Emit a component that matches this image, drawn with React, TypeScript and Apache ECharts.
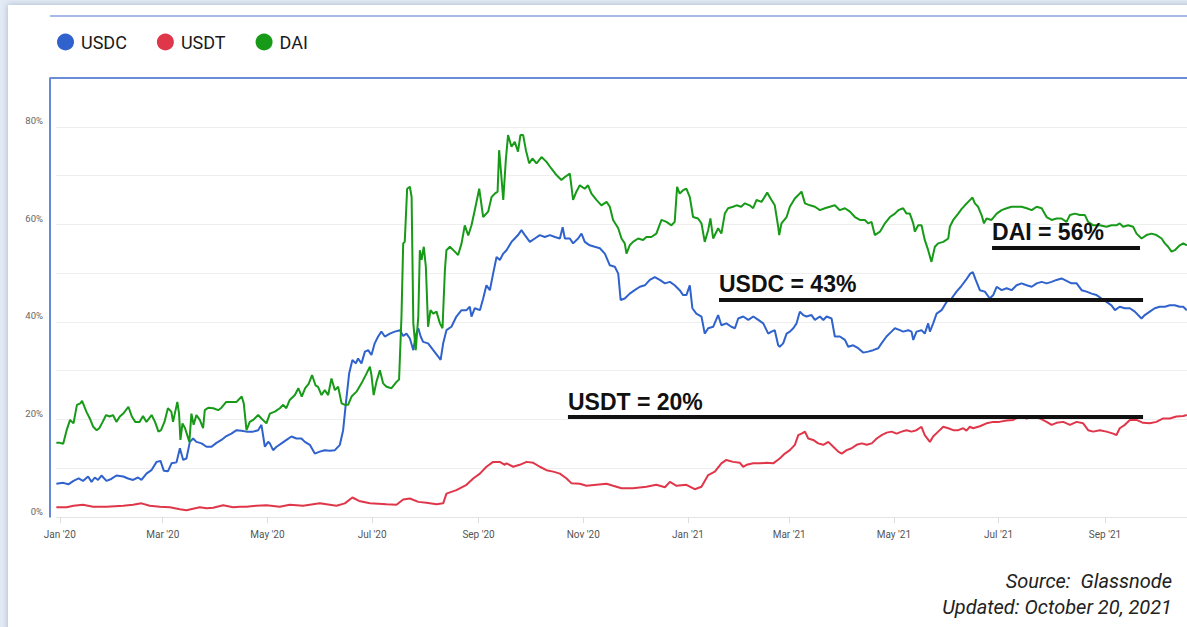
import React, { useEffect, useRef } from "react";
import * as echarts from "echarts";

// x values are days since 2020-01-01, y values are % share
const tickDates = [
  "2020-01-01", "2020-03-01", "2020-05-01", "2020-07-01", "2020-09-01", "2020-11-01",
  "2021-01-01", "2021-03-01", "2021-05-01", "2021-07-01", "2021-09-01",
];
const tickLabels = [
  "Jan '20", "Mar '20", "May '20", "Jul '20", "Sep '20", "Nov '20",
  "Jan '21", "Mar '21", "May '21", "Jul '21", "Sep '21",
];

const usdc: [number, number][] = [
  [-2, 6.8], [2, 7.0], [5, 6.7], [8, 7.4], [11, 7.9], [13.5, 7.4], [16.5, 8.3], [18.5, 7.2], [20.4, 8.1],
  [22.3, 7.6], [24.3, 8.5], [27.2, 7.4], [30, 7.8], [33, 8.5], [37, 8.3], [39.8, 7.9], [42.7, 7.6],
  [45.6, 8.1], [47.6, 7.6], [50.5, 8.9], [53.4, 9.6], [56.4, 11.3], [58.7, 11.5], [60.6, 9.5], [63.1, 9.4],
  [65.1, 11.0], [68, 11.2], [70, 14.1], [71.9, 11.7], [73.8, 12.0], [75.8, 15.4], [77.7, 16.1], [79.6, 15.4],
  [82.6, 15.1], [85.5, 14.4], [88.4, 14.4], [91.3, 15.2], [94.2, 15.8], [97.1, 16.6], [100, 17.1], [103, 17.8],
  [105.9, 17.7], [108.8, 17.5], [112.7, 17.5], [115.6, 17.8], [117.5, 18.9], [119.5, 14.4], [121.4, 15.4],
  [122.4, 15.1], [124.3, 13.7], [126.3, 14.4], [129.2, 15.1], [132.1, 15.8], [135, 16.5], [137.9, 16.1],
  [140.8, 16.1], [142.8, 15.4], [145.7, 14.8], [148.6, 13.0], [151.5, 13.4], [154.4, 13.7], [157.3, 13.6],
  [160.3, 13.7], [163.2, 14.8], [165.1, 17.8], [166.7, 23.3], [168.6, 29.4], [170.5, 32.2], [172.5, 31.5],
  [173.8, 32.5], [175.8, 31.5], [177.8, 33.9], [179.7, 34.2], [181.6, 33.2], [183.5, 35.6], [185.5, 37.0],
  [187.4, 38.0], [189.4, 37.0], [192.3, 37.6], [195.2, 38.0], [198.2, 38.3], [200.1, 37.1], [202, 37.6],
  [204, 36.6], [206, 34.2], [207.4, 37.3], [208.9, 38.7], [210.3, 37.0], [211.7, 35.9], [214.6, 35.6],
  [217.6, 34.2], [220.5, 32.9], [221.9, 32.2], [223.4, 35.6], [225.3, 38.3], [228.2, 39.0], [231.1, 41.1],
  [234.1, 42.4], [237, 42.4], [238.9, 43.1], [239.9, 41.1], [241.8, 42.8], [244.8, 42.4], [246.7, 44.8],
  [248.6, 47.5], [250.6, 46.5], [252.5, 49.9], [254.5, 53.3], [256.4, 52.7], [258.4, 54.0], [260.3, 54.7],
  [263.2, 56.4], [265.1, 57.1], [267, 57.8], [269, 58.8], [271, 57.8], [273.9, 56.4], [276.8, 57.1],
  [279.7, 57.8], [282.6, 57.4], [285.6, 57.8], [288.5, 57.4], [291.4, 57.1], [293, 59.4], [294.3, 57.1],
  [297.2, 57.1], [299.1, 56.1], [302, 57.1], [304, 58.1], [305.9, 56.4], [308.8, 55.7], [311.7, 55.4],
  [314.7, 55.1], [317.6, 54.0], [320.5, 51.6], [323.4, 51.3], [325.4, 49.9], [326.8, 44.5], [329.2, 44.8],
  [332.1, 45.8], [335, 46.5], [338, 47.2], [340.9, 47.5], [343.8, 48.6], [346.7, 49.2], [349.6, 48.6],
  [352.6, 47.9], [355.5, 48.2], [358.3, 47.5], [361.2, 46.5], [363.2, 45.5], [365.1, 45.5], [367.1, 47.5],
  [368.6, 42.8], [370.9, 41.7], [373.9, 41.1], [375.8, 37.6], [377.8, 38.7], [380.7, 39.0], [383.6, 41.4],
  [385.5, 39.3], [388.4, 39.7], [391.3, 39.0], [393.4, 38.7], [395.3, 40.7], [398.2, 41.1], [401.2, 40.4],
  [404.1, 41.1], [407, 40.4], [409.9, 39.7], [412.8, 37.6], [414.7, 38.0], [416.6, 38.3], [418.6, 35.2],
  [419.5, 34.9], [421.5, 35.6], [423.5, 37.6], [425.4, 38.0], [427.4, 38.7], [429.3, 39.7], [431.2, 42.1],
  [433.2, 41.4], [435.1, 41.1], [438, 41.4], [440, 40.4], [442.9, 41.1], [444.9, 40.4], [446.8, 41.1],
  [449.7, 40.7], [451.6, 37.0], [454.5, 37.0], [457.5, 36.3], [459.4, 34.9], [462.3, 35.2], [465.2, 34.6],
  [468.1, 33.7], [471, 33.9], [473.9, 34.2], [476.9, 34.6], [478.8, 35.6], [481.7, 37.0], [484.6, 38.0],
  [486.6, 38.7], [489.5, 38.3], [491.4, 38.0], [494.4, 38.3], [496.3, 38.0], [497.3, 36.3], [499.2, 38.0],
  [502.1, 38.3], [504, 37.6], [506, 39.7], [507, 38.0], [508.9, 39.7], [510.9, 41.7], [513.8, 42.4],
  [516.7, 44.1], [519.6, 44.8], [522.5, 46.2], [525, 47.2], [528, 48.6], [530.5, 49.9], [532, 50.2],
  [533.7, 48.6], [536.1, 46.5], [539, 46.2], [541.9, 44.8], [543.9, 45.5], [545.9, 47.2], [548.8, 46.5],
  [551.7, 46.9], [554.6, 46.5], [557.5, 47.5], [560.4, 47.9], [563.4, 47.5], [566.3, 47.2], [569.2, 47.9],
  [572.1, 48.2], [575, 47.9], [577.9, 48.2], [580.8, 48.6], [583.7, 48.9], [586.6, 48.4], [589.5, 47.9],
  [592.5, 47.9], [595.4, 46.5], [598.3, 46.2], [601.2, 45.8], [604.1, 45.5], [607, 44.8], [609.9, 44.1],
  [612.8, 43.4], [614.8, 42.4], [617.6, 43.1], [620.6, 42.8], [623.5, 42.8], [626.4, 42.1], [628.3, 41.4],
  [630.3, 40.7], [632.2, 41.4], [635.1, 42.1], [638, 42.8], [640.9, 43.1], [643.9, 43.1], [646.8, 43.4],
  [649.7, 43.4], [652.6, 43.1], [654.6, 43.1], [656.7, 42.4],
];

const usdt: [number, number][] = [
  [-2, 2.0], [4, 2.0], [8, 2.3], [13.5, 2.5], [19.4, 2.1], [27.2, 2.1], [37, 2.3], [42.7, 2.5], [47.6, 2.8],
  [52.4, 2.3], [58.3, 2.1], [64.1, 2.0], [70, 1.6], [73.8, 1.4], [77.7, 1.7], [81.6, 2.0], [85.5, 1.8],
  [89.4, 1.9], [95.2, 2.4], [101, 2.0], [104.9, 2.1], [108.8, 2.1], [114.6, 2.3], [120.4, 2.4], [128.2, 2.1],
  [134, 2.5], [141.8, 2.3], [151.5, 2.8], [161.2, 2.3], [166.1, 2.8], [170.5, 4.0], [174.4, 3.3], [180.7, 2.8],
  [190.4, 2.6], [196.2, 2.5], [200.1, 3.6], [204, 3.8], [208.9, 3.1], [213.7, 2.9], [219.5, 2.6], [223.4, 2.8],
  [225.3, 4.8], [231.1, 5.5], [237, 6.6], [240.9, 7.9], [244.8, 8.9], [248.6, 10.3], [252.5, 11.3],
  [256.4, 11.3], [259.3, 10.7], [260.3, 11.0], [264.2, 10.3], [268, 10.7], [272, 11.3], [275.9, 11.1],
  [279.7, 10.3], [283.6, 9.6], [287.5, 9.3], [291.4, 8.9], [295.3, 7.9], [298.2, 6.9], [303, 6.8],
  [306.9, 6.4], [312.7, 6.6], [318.6, 6.8], [322.4, 6.4], [327.3, 5.9], [334, 5.9], [341.8, 6.2],
  [347.6, 6.6], [352.6, 6.1], [355.5, 7.2], [359.4, 6.4], [365.1, 6.6], [370, 5.7], [373.9, 6.2],
  [377.8, 8.6], [381.7, 9.3], [385.5, 11.0], [388.4, 11.7], [392.3, 11.3], [396.3, 11.1], [398.2, 10.3],
  [400.2, 10.7], [404.1, 11.0], [408, 11.0], [411.8, 11.1], [415.7, 11.0], [419.5, 12.0], [422.5, 13.0],
  [425.4, 13.7], [428.3, 14.8], [430.3, 16.8], [432.2, 17.1], [434.2, 17.5], [436.1, 16.1], [439, 15.8],
  [441.9, 15.1], [444.9, 14.8], [447.8, 15.4], [450.7, 14.4], [453.6, 13.4], [455.6, 13.0], [458.5, 13.7],
  [461.4, 14.1], [464.3, 14.8], [467.3, 15.1], [470.2, 14.8], [473.1, 15.1], [476, 16.1], [478.9, 16.8],
  [481.8, 17.3], [484.7, 17.5], [487.6, 17.1], [490.5, 17.5], [493.4, 17.8], [496.3, 17.5], [499.2, 17.8],
  [502.1, 18.5], [504, 16.8], [507, 15.4], [508.9, 16.5], [511.8, 17.5], [514.8, 18.5], [517.7, 18.2],
  [520.6, 17.8], [523.5, 17.8], [526.4, 18.2], [528.3, 17.7], [530.3, 18.5], [532.2, 18.2], [536.1, 18.6],
  [540, 19.2], [543.9, 19.5], [547.4, 19.5], [551.7, 19.8], [555.5, 19.9], [559.4, 20.6], [563.4, 20.2],
  [567.2, 20.6], [571.1, 20.2], [575, 19.5], [577.9, 18.9], [580.8, 19.3], [584.7, 19.5], [588.6, 18.9],
  [592.5, 19.5], [596.3, 19.2], [599.2, 17.8], [602.2, 17.5], [606, 17.8], [609.9, 17.5], [613.8, 17.1],
  [615.7, 16.8], [617.6, 18.2], [620.6, 18.9], [623.5, 19.9], [627.4, 19.9], [631.2, 19.3], [635.1, 19.2],
  [639, 19.5], [642.9, 20.2], [646.8, 20.2], [650.6, 20.6], [654.6, 20.7], [656.7, 20.9],
];

const dai: [number, number][] = [
  [-2, 15.2], [0, 15.2], [2, 15.0], [4, 17.8], [6, 19.9], [8, 19.2], [10, 23.0], [12, 23.3], [13, 23.8],
  [15.5, 21.6], [17.5, 20.2], [19.5, 18.5], [21.5, 17.8], [23, 18.2], [25, 19.5], [27, 20.9], [29, 20.6],
  [31, 20.9], [33, 19.5], [35, 20.6], [37, 21.2], [40, 22.6], [42, 20.6], [44, 19.5], [46.5, 19.5],
  [48.5, 20.7], [50.5, 19.5], [53.5, 20.9], [55.5, 19.5], [57.5, 17.5], [59, 17.8], [61, 19.5], [63, 22.3],
  [65, 21.6], [66, 19.5], [68.5, 23.6], [69.5, 21.2], [70.3, 15.8], [71.5, 19.2], [73, 18.2], [75.5, 15.4],
  [76.7, 21.2], [78, 18.9], [79.6, 20.9], [81.6, 19.9], [83.5, 18.2], [84.5, 21.9], [86.5, 22.4],
  [89.5, 22.3], [92.3, 21.9], [94.2, 22.4], [97, 23.6], [100, 23.6], [103, 23.6], [106, 24.7], [107.2, 23.3],
  [108.8, 17.8], [110.7, 19.5], [112.7, 19.9], [115.6, 20.9], [117.5, 20.2], [120.4, 19.2], [122.4, 21.2],
  [125.3, 21.6], [128.2, 22.3], [130.2, 23.0], [132, 22.3], [134, 24.0], [137, 25.0], [139, 26.4],
  [141, 24.7], [143, 26.4], [145, 27.3], [147, 29.1], [149, 27.0], [150.5, 26.7], [152.5, 25.0],
  [154.4, 26.0], [156.4, 25.0], [158.3, 28.4], [160.3, 26.0], [162.2, 26.7], [164.2, 23.3], [166.1, 23.0],
  [168, 23.0], [170, 24.7], [172.9, 25.7], [175.8, 27.4], [178.7, 29.4], [180.7, 30.8], [181.6, 29.1],
  [182.9, 25.0], [184.5, 27.7], [186.5, 30.1], [188.4, 27.4], [190.4, 26.7], [193.3, 26.4], [196.2, 27.7],
  [197.7, 28.2], [199.1, 41.1], [200.1, 56.1], [201, 56.4], [202.4, 67.3], [204, 67.7], [205, 65.6],
  [206, 39.7], [207.4, 34.2], [208.9, 41.1], [209.8, 54.7], [210.8, 52.7], [212.1, 55.4], [213.3, 51.3],
  [214.6, 39.0], [216, 42.4], [217.6, 41.7], [219.5, 42.1], [221.5, 39.7], [223, 38.7], [224.4, 50.6],
  [225.3, 54.7], [227.3, 55.4], [230.2, 54.4], [232.1, 53.7], [234.1, 56.1], [236, 59.8], [238, 57.7],
  [239.9, 59.8], [241.8, 62.9], [244.4, 67.3], [246.7, 61.5], [249.6, 62.6], [251.6, 65.6], [253.5, 66.3],
  [255.1, 66.7], [256, 75.2], [257, 71.1], [258.4, 65.0], [259.9, 73.2], [261.2, 78.3], [263.2, 75.9],
  [265.1, 76.9], [267, 74.9], [268.4, 78.3], [270, 78.3], [271.6, 75.2], [273.5, 72.5], [275.4, 73.5],
  [277.8, 72.5], [280.7, 73.8], [283.6, 72.8], [286.5, 71.4], [289.4, 70.1], [292.3, 69.1], [294.3, 69.7],
  [297.2, 70.4], [299.1, 65.0], [301, 66.7], [303, 68.0], [305.9, 67.3], [307.8, 68.0], [309.8, 66.3],
  [312.7, 65.0], [315.6, 63.9], [318.6, 64.6], [320.5, 63.6], [322.4, 60.9], [325.4, 59.2], [327.3, 57.1],
  [329.2, 56.1], [330.2, 54.0], [332.1, 55.7], [334, 56.4], [337, 57.1], [339.9, 56.8], [341.8, 57.4],
  [344.7, 57.4], [347.6, 58.1], [350.6, 60.9], [353.5, 60.5], [356.4, 59.8], [358.3, 60.5], [359.7, 67.7],
  [361.2, 66.3], [363.2, 67.0], [365.1, 67.3], [367.1, 65.6], [369, 61.5], [371.9, 61.2], [373.9, 60.2],
  [375.8, 56.4], [377.8, 58.8], [379.1, 61.2], [380.7, 57.1], [383.6, 59.2], [385.5, 58.1], [387.5, 62.2],
  [389.4, 63.3], [392.3, 63.6], [394.3, 63.9], [397, 63.6], [399.2, 64.3], [402, 63.9], [404, 63.3],
  [406, 65.0], [408.9, 64.6], [412.2, 66.5], [414.7, 65.0], [416.6, 63.9], [418.6, 59.5], [419.2, 57.8],
  [420.5, 60.2], [423.5, 61.5], [425.4, 63.6], [428.3, 65.3], [430.3, 66.0], [432.2, 66.7], [434.2, 64.3],
  [437.1, 63.9], [440, 63.6], [442.9, 62.9], [445.8, 63.3], [448.7, 63.6], [451.6, 63.9], [454.5, 62.9],
  [457.5, 63.3], [460.4, 62.6], [463.3, 61.5], [466.2, 60.9], [469.1, 60.9], [471, 60.2], [473, 60.5],
  [474.9, 57.8], [477.9, 58.5], [480.8, 60.2], [483.7, 61.5], [486.6, 62.2], [488.6, 62.9], [491.4, 63.3],
  [493.4, 62.2], [495.3, 62.2], [497.3, 60.2], [498.2, 58.5], [500.2, 59.8], [502.1, 59.8], [504, 56.8],
  [506, 54.7], [507.9, 52.3], [509.9, 55.4], [511.8, 56.1], [514.8, 56.4], [517.7, 57.1], [518.6, 59.5],
  [520.6, 60.9], [523.5, 62.2], [525.4, 63.1], [527.4, 63.9], [529.3, 64.6], [531.8, 65.5], [533.2, 64.3],
  [535.1, 63.6], [537.1, 61.9], [538.5, 60.2], [540, 61.2], [542.9, 60.9], [545.9, 62.2], [548.8, 62.9],
  [551.7, 63.3], [554.6, 63.6], [557.5, 63.6], [560.4, 63.6], [563.4, 63.3], [566.3, 62.9], [569.2, 63.6],
  [572.1, 63.3], [575, 61.5], [577.9, 60.9], [580.8, 61.2], [583.7, 61.2], [586.6, 60.5], [588.6, 61.9],
  [591.5, 62.2], [594.4, 61.9], [597.3, 61.9], [599.2, 60.5], [602.2, 59.8], [606, 59.8], [609.9, 59.5],
  [612.8, 59.8], [615.7, 59.8], [617.6, 60.2], [619.6, 59.5], [622.5, 59.8], [625.4, 59.5], [627.4, 58.1],
  [630.3, 57.1], [633.2, 57.8], [636.1, 58.1], [639, 57.8], [642, 57.1], [643.9, 56.1], [645.8, 55.4],
  [647.8, 54.4], [649.7, 54.7], [652.6, 55.7], [654.6, 56.1], [656.7, 55.7],
];

const seriesNames = ["USDC", "USDT", "DAI"];
const seriesColors = ["#2f62cc", "#e0364a", "#179a17"];

// annotation: label, level (%), start day, end day
const annotationLabels = ["USDC = 43%", "USDT = 20%", "DAI = 56%"];
const annotationLevels = [44.5, 20.5, 55.25];
const annotationFrom = [384.1, 296.1, 543.2];
const annotationTo = [631.2, 631.2, 629.4];

const sourceLines = ["Source:  Glassnode", "Updated: October 20, 2021"];

const START = Date.UTC(2020, 0, 1);
const DAY = 86400000;
const tickDays = tickDates.map((d) => Math.round((Date.parse(d + "T00:00:00Z") - START) / DAY));

export default function App() {
  const ref = useRef<HTMLDivElement>(null);

  useEffect(() => {
    if (!ref.current) return;
    const chart = echarts.init(ref.current, null, { renderer: "svg" });
    const datasets = [usdc, usdt, dai];

    const series = seriesNames.map((name, i) => ({
      name,
      type: "line",
      data: datasets[i],
      showSymbol: false,
      symbol: "none",
      clip: true,
      lineStyle: { width: 2, color: seriesColors[i] },
      itemStyle: { color: seriesColors[i] },
      emphasis: { disabled: true },
      markLine: {
        silent: true,
        symbol: ["none", "none"],
        emphasis: { disabled: true },
        lineStyle: { color: "#111111", width: 4, type: "solid" },
        label: {
          show: true,
          position: "insideStartTop",
          formatter: annotationLabels[i],
          color: "#111111",
          fontSize: 23,
          fontWeight: "bold",
          fontFamily: "'Liberation Sans', Arial, sans-serif",
          distance: [0, 4],
        },
        data: [
          [
            { coord: [annotationFrom[i], annotationLevels[i]] },
            { coord: [annotationTo[i], annotationLevels[i]] },
          ],
        ],
      },
    }));

    chart.setOption({
      animation: false,
      backgroundColor: "transparent",
      textStyle: { fontFamily: "Roboto, sans-serif" },
      legend: {
        data: seriesNames,
        left: 57,
        top: 33,
        padding: 0,
        icon: "circle",
        itemWidth: 17,
        itemHeight: 17,
        itemGap: 30,
        selectedMode: false,
        textStyle: {
          fontSize: 18,
          color: "#1a1a1a",
          fontFamily: "Roboto, sans-serif",
          padding: [0, 0, 0, 2],
        },
      },
      grid: { left: 56, right: 0, top: 78, bottom: 110, containLabel: false },
      xAxis: {
        type: "value",
        min: -2.2,
        max: 656.8,
        axisLine: { show: true, onZero: false, lineStyle: { color: "#e4e4e4", width: 1 } },
        axisTick: {
          show: true,
          customValues: tickDays,
          length: 6,
          lineStyle: { color: "#dddddd" },
        },
        axisLabel: {
          customValues: tickDays,
          formatter: (v: number) => {
            const idx = tickDays.findIndex((d) => Math.abs(d - v) < 0.5);
            return idx >= 0 ? tickLabels[idx] : "";
          },
          fontSize: 10,
          color: "#555555",
          margin: 12,
          fontFamily: "Roboto, sans-serif",
        },
        splitLine: { show: false },
      },
      yAxis: {
        type: "value",
        min: 0,
        max: 90,
        interval: 10,
        offset: 6,
        axisLine: { show: true, onZero: false, lineStyle: { color: "#3561cc", width: 1.5 } },
        axisTick: { show: false },
        axisLabel: {
          formatter: (v: number) => (v % 20 === 0 && v <= 80 ? v + "%" : ""),
          fontSize: 9.5,
          color: "#666666",
          margin: 7,
          verticalAlign: "bottom",
          lineHeight: 12,
          fontFamily: "Roboto, sans-serif",
        },
        splitLine: { show: true, lineStyle: { color: "#eeeeee", width: 1 } },
      },
      graphic: [
        {
          type: "line",
          shape: { x1: 50, y1: 16, x2: 1187, y2: 16 },
          style: { stroke: "#89a5df", lineWidth: 1.5 },
          silent: true,
        },
        {
          type: "line",
          shape: { x1: 50, y1: 78, x2: 1187, y2: 78 },
          style: { stroke: "#6a8dd6", lineWidth: 2 },
          silent: true,
          z: 10,
        },
        ...sourceLines.map((t, i) => ({
          type: "text",
          x: 1172,
          y: 581 + i * 26,
          silent: true,
          style: {
            text: t,
            fill: "#222222",
            fontSize: 20,
            fontStyle: "italic",
            fontFamily: "Roboto, sans-serif",
            textAlign: "right",
            textVerticalAlign: "middle",
          },
        })),
      ],
      series,
    });

    return () => chart.dispose();
  }, []);

  return (
    <div
      style={{
        position: "fixed",
        left: 0,
        top: 0,
        width: 1187,
        height: 627,
        overflow: "hidden",
        background: "#e2eaf5",
      }}
    >
      <div
        style={{
          position: "absolute",
          left: 8,
          top: 5,
          width: 1220,
          height: 660,
          background: "#ffffff",
          boxShadow: "0 0 6px rgba(60,80,120,0.35)",
        }}
      />
      <div ref={ref} style={{ position: "absolute", left: 0, top: 0, width: 1187, height: 627 }} />
    </div>
  );
}
